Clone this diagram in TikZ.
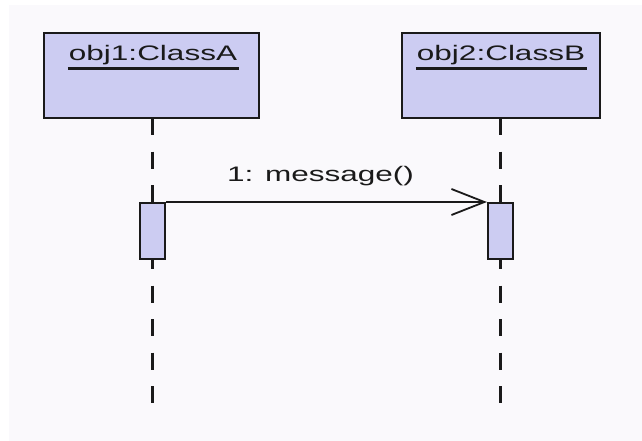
\documentclass[tikz,border=0pt]{standalone}
\usepackage{fontspec}
\setmainfont{Liberation Sans}
\newfontfamily\widefont[FakeStretch=1.5]{Liberation Sans}
\usetikzlibrary{arrows.meta}
\definecolor{bgc}{HTML}{FAF9FC}
\definecolor{objfill}{HTML}{CCCCF2}
\definecolor{ink}{HTML}{1A1A1A}
\tikzset{
  objbox/.style={draw=ink, fill=objfill, line width=2.4pt},
  actbox/.style={draw=ink, fill=objfill, line width=2.2pt},
  lifeline/.style={draw=ink, line width=2.2pt, dash pattern=on 17pt off 16.5pt},
  objlabel/.style={inner sep=0pt, anchor=base, font=\widefont\fontsize{21pt}{24pt}\selectfont, text=ink},
  msglabel/.style={inner sep=0pt, font=\widefont\fontsize{21pt}{24pt}\selectfont, text=ink},
  msgline/.style={draw=ink, line width=1.6pt, -{Straight Barb[length=33pt,width=26pt,line width=1.8pt]}},
  uline/.style={draw=ink, line width=2.2pt}
}
\begin{document}
\begin{tikzpicture}[x=1pt,y=-1pt]
\useasboundingbox (0,0) rectangle (642,441);
\fill[white] (0,0) rectangle (642,441);
\fill[bgc] (9,5) rectangle (642,441);
% lifelines
\coordinate (l1top) at (152.5,118);
\coordinate (l1bot) at (152.5,403);
\coordinate (l2top) at (500.5,118);
\coordinate (l2bot) at (500.5,403);
\draw[lifeline] (l1top) -- (l1bot);
\draw[lifeline] (l2top) -- (l2bot);
% object boxes
\path[objbox] (44,33) rectangle (259,118);
\path[objbox] (402,33) rectangle (600,118);
\node[objlabel] (n1) at (153,60.5) {obj1:ClassA};
\node[objlabel] (n2) at (501,60.5) {obj2:ClassB};
\draw[uline] ([xshift=-1pt,yshift=-8pt]n1.base west) -- ([xshift=2pt,yshift=-8pt]n1.base east);
\draw[uline] ([xshift=-1pt,yshift=-8pt]n2.base west) -- ([xshift=2pt,yshift=-8pt]n2.base east);
% activations
\node[actbox, minimum width=25pt, minimum height=56pt, inner sep=0pt, anchor=north] (a1) at (152.5,202) {};
\node[actbox, minimum width=25pt, minimum height=56pt, inner sep=0pt, anchor=north] (a2) at (500.5,202) {};
% message
\draw[msgline] (a1.north east) -- (a2.north west);
\node[msglabel, anchor=base] (m) at (320.5,181) {1: message()};
\end{tikzpicture}
\end{document}
